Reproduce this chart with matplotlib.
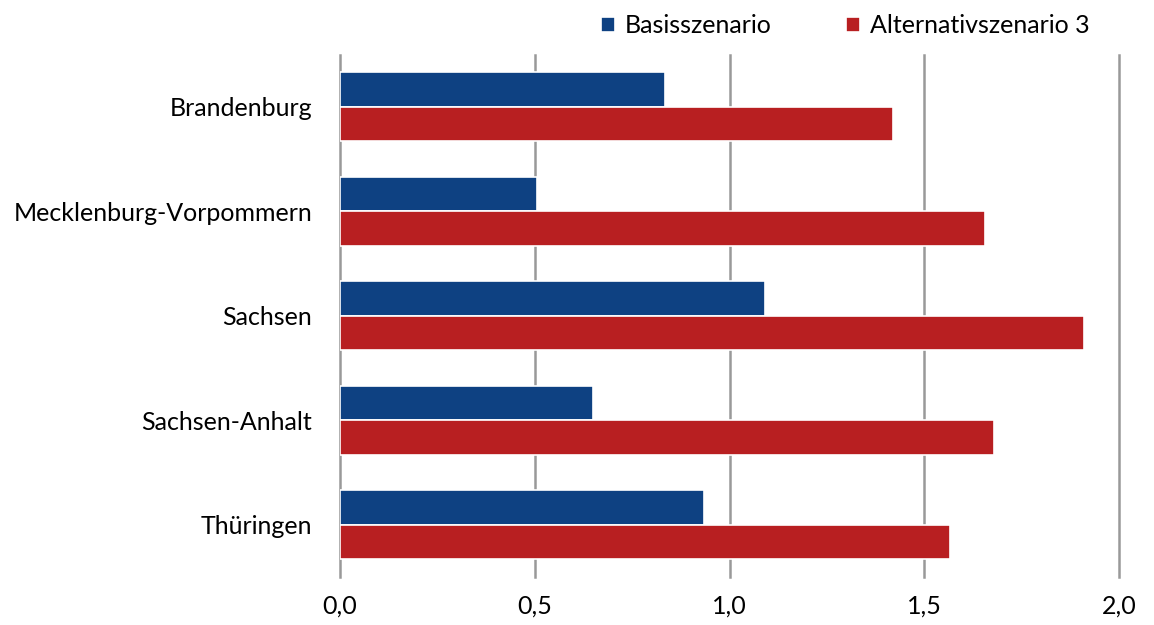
import matplotlib
matplotlib.use('Agg')
import matplotlib.pyplot as plt
import numpy as np

# Data
laender = ['Brandenburg', 'Mecklenburg-Vorpommern', 'Sachsen', 'Sachsen-Anhalt', 'Thüringen']
basis = [0.835, 0.505, 1.09, 0.65, 0.935]
alternativ3 = [1.42, 1.655, 1.91, 1.68, 1.565]
x_ticks = [0.0, 0.5, 1.0, 1.5, 2.0]
x_labels = ['0,0', '0,5', '1,0', '1,5', '2,0']

blue = '#0E4182'
red = '#B81F21'

plt.rcParams['font.family'] = ['Lato', 'DejaVu Sans']

fig = plt.figure(figsize=(11.54, 6.25), dpi=100, facecolor='white')
ax = fig.add_axes([0.2946, 0.0768, 0.9697 - 0.2946, 0.836])

y = np.arange(len(laender))
h = 0.33
ax.barh(y - h / 2, basis, height=h, color=blue, edgecolor='white', linewidth=1.2,
        label='Basisszenario', zorder=3)
ax.barh(y + h / 2, alternativ3, height=h, color=red, edgecolor='white', linewidth=1.2,
        label='Alternativszenario 3', zorder=3)

ax.set_ylim(len(laender) - 0.5, -0.5)
ax.set_xlim(0, 2.0)
ax.set_yticks(y)
ax.set_yticklabels(laender, fontsize=18)
ax.set_xticks(x_ticks)
ax.set_xticklabels(x_labels, fontsize=18)
ax.tick_params(axis='both', length=0)
ax.tick_params(axis='x', pad=13)
ax.tick_params(axis='y', pad=20)

ax.grid(axis='x', color='#999999', linewidth=1.8, zorder=0)
for gl in ax.get_xgridlines():
    gl.set_clip_on(False)
for s in ax.spines.values():
    s.set_visible(False)

ax.legend(loc='lower right', bbox_to_anchor=(0.985, 1.0), ncol=2, frameon=False,
          fontsize=18, handlelength=0.55, handleheight=0.55, handletextpad=0.4,
          columnspacing=3.0, borderaxespad=0.3)

plt.savefig('out.png', dpi=100, facecolor='white')
